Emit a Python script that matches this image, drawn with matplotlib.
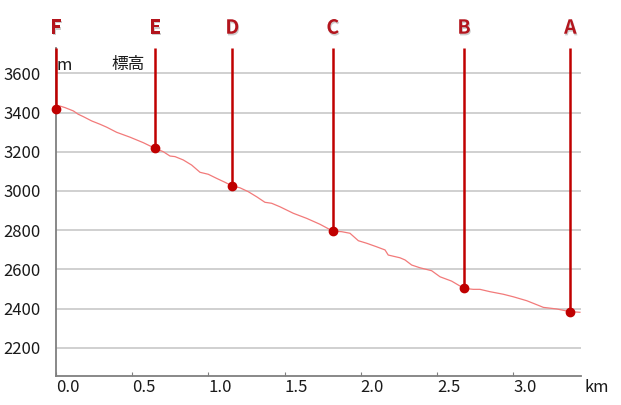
import matplotlib
matplotlib.use("Agg")
import matplotlib.pyplot as plt
import matplotlib.patheffects as pe

plt.rcParams['font.family'] = ['Noto Sans CJK JP', 'DejaVu Sans']

# --- data ---
profile_km = [0.026, 0.059, 0.114, 0.146, 0.179, 0.234, 0.289, 0.333, 0.398, 0.486,
              0.573, 0.650, 0.704, 0.748, 0.781, 0.835, 0.890, 0.945, 0.999, 1.054,
              1.109, 1.157, 1.207, 1.262, 1.317, 1.371, 1.415, 1.470, 1.557, 1.645,
              1.732, 1.816, 1.875, 1.929, 1.984, 2.039, 2.104, 2.159, 2.180, 2.257,
              2.290, 2.334, 2.388, 2.465, 2.520, 2.596, 2.677, 2.738, 2.782, 2.848,
              2.935, 3.001, 3.089, 3.176, 3.198, 3.285, 3.375, 3.438]
profile_elev = [3433, 3425, 3408, 3391, 3379, 3357, 3340, 3325, 3299, 3274,
                3246, 3217, 3200, 3178, 3175, 3158, 3132, 3095, 3085, 3064,
                3044, 3025, 3016, 2996, 2970, 2942, 2937, 2919, 2886, 2860,
                2830, 2795, 2792, 2784, 2746, 2733, 2715, 2699, 2673, 2659,
                2648, 2622, 2608, 2593, 2562, 2540, 2503, 2498, 2498, 2486,
                2473, 2460, 2440, 2413, 2406, 2398, 2384, 2381]

station_labels = ['F', 'E', 'D', 'C', 'B', 'A']
station_km = [0.0, 0.650, 1.157, 1.816, 2.677, 3.375]
station_elev = [3418, 3217, 3025, 2795, 2503, 2384]

y_ticks = [2200, 2400, 2600, 2800, 3000, 3200, 3400, 3600]
x_ticks = [0.0, 0.5, 1.0, 1.5, 2.0, 2.5, 3.0]
x_tick_labels = ['0.0', '0.5', '1.0', '1.5', '2.0', '2.5', '3.0']

# --- figure ---
W, H = 621, 405
fig = plt.figure(figsize=(W / 100, H / 100), dpi=100)
ax = fig.add_axes([56 / W, 1 - 376 / H, (580.7 - 56) / W, (376 - 48) / H])
xmin, xmax = 0.0, 3.443
ymin, ymax = 2056, 3729
ax.set_xlim(xmin, xmax)
ax.set_ylim(ymin, ymax)

for s in ['top', 'right']:
    ax.spines[s].set_visible(False)
for s in ['left', 'bottom']:
    ax.spines[s].set_color('#7f7f7f')
    ax.spines[s].set_linewidth(1.3)

ax.set_yticks(y_ticks)
ax.set_yticklabels([str(v) for v in y_ticks], fontsize=12, color='#1a1a1a')
ax.tick_params(axis='y', length=0, pad=11)
ax.set_xticks(x_ticks)
ax.set_xticklabels(x_tick_labels, fontsize=12, color='#1a1a1a')
ax.tick_params(axis='x', direction='in', length=3, color='#7f7f7f', pad=2)
for lbl in ax.get_xticklabels():
    lbl.set_horizontalalignment('left')

for v in y_ticks:
    ax.axhline(v, color='#c8c8c8', lw=1.2, zorder=1)

ax.plot(profile_km, profile_elev, color='#f27a7a', lw=0.9, zorder=3)

for lab, xk, ye in zip(station_labels, station_km, station_elev):
    ax.plot([xk, xk], [ye, ymax], color='#c00000', lw=1.8, zorder=4,
            solid_capstyle='butt', clip_on=False)
    ax.plot([xk], [ye], 'o', color='#c00000', ms=6, zorder=5, clip_on=False)
    ax.text(xk, 3830, lab, ha='center', va='center', fontsize=14,
            fontweight='bold', color='#b3151d', clip_on=False,
            path_effects=[pe.withSimplePatchShadow(offset=(0.6, -1.2),
                                                   shadow_rgbFace='#c8c8c8',
                                                   alpha=0.9)])

fig.text(57 / W, 1 - 65 / H, 'm', fontsize=12, ha='left', va='center',
         color='#1a1a1a')
fig.text(111 / W, 1 - 65 / H, '標高', fontsize=12, ha='left', va='center',
         color='#1a1a1a')
fig.text(584 / W, 1 - 388 / H, 'km', fontsize=12, ha='left', va='center',
         color='#1a1a1a')

fig.savefig('out.png', dpi=100)
